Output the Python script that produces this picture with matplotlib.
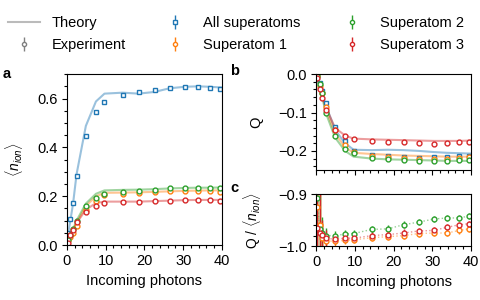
import numpy as np
import matplotlib.pyplot as plt
from matplotlib.ticker import MultipleLocator
from matplotlib.lines import Line2D

plt.rcParams['font.family'] = ['Liberation Sans', 'DejaVu Sans']
plt.rcParams['font.size'] = 10.5
plt.rcParams['mathtext.fontset'] = 'custom'
plt.rcParams['mathtext.it'] = 'Liberation Sans:italic'
plt.rcParams['mathtext.rm'] = 'Liberation Sans'

# ========== data ==========
photons = [0.35, 0.9, 1.6, 2.5, 4.9, 7.5, 9.7, 14.4, 18.5, 22.6, 26.5, 30.4, 33.8, 37.0, 39.6]

# panel a: <n_ion>
n_all = [0.05, 0.105, 0.173, 0.283, 0.448, 0.543, 0.585, 0.616, 0.626, 0.634, 0.645, 0.646, 0.648, 0.645, 0.641]
n_s1 = [0.02, 0.035, 0.05, 0.08, 0.145, 0.18, 0.205, 0.209, 0.214, 0.217, 0.221, 0.221, 0.223, 0.221, 0.219]
n_s2 = [0.02, 0.04, 0.065, 0.10, 0.161, 0.194, 0.209, 0.219, 0.223, 0.225, 0.232, 0.234, 0.234, 0.234, 0.234]
n_s3 = [0.01, 0.04, 0.06, 0.093, 0.137, 0.161, 0.171, 0.175, 0.176, 0.179, 0.182, 0.183, 0.183, 0.183, 0.182]

th_x = [0.0, 0.35, 0.9, 1.6, 2.5, 4.9, 7.5, 9.7, 14.4, 18.5, 22.6, 26.5, 30.4, 33.8, 37.0, 40.0]
th_n_all = [0.02, 0.05, 0.10, 0.17, 0.29, 0.488, 0.588, 0.62, 0.624, 0.62, 0.627, 0.642, 0.648, 0.65, 0.648, 0.645]
th_n_s1 = [0.0, 0.02, 0.04, 0.06, 0.09, 0.16, 0.20, 0.214, 0.215, 0.216, 0.218, 0.22, 0.222, 0.223, 0.224, 0.224]
th_n_s2 = [0.0, 0.02, 0.04, 0.065, 0.10, 0.17, 0.21, 0.224, 0.226, 0.227, 0.229, 0.232, 0.234, 0.235, 0.235, 0.236]
th_n_s3 = [0.0, 0.015, 0.035, 0.06, 0.09, 0.145, 0.172, 0.178, 0.178, 0.178, 0.18, 0.182, 0.184, 0.185, 0.185, 0.185]

# panel b: Q
q_all = [-0.007, -0.024, -0.044, -0.076, -0.139, -0.175, -0.199, -0.21, -0.214, -0.216, -0.219, -0.217, -0.216, -0.212, -0.212]
q_s1 = [-0.006, -0.03, -0.05, -0.085, -0.145, -0.185, -0.203, -0.213, -0.216, -0.218, -0.22, -0.221, -0.22, -0.218, -0.215]
q_s2 = [-0.005, -0.025, -0.05, -0.102, -0.16, -0.194, -0.206, -0.219, -0.222, -0.223, -0.225, -0.225, -0.225, -0.223, -0.223]
q_s3 = [-0.01, -0.039, -0.063, -0.093, -0.145, -0.162, -0.17, -0.174, -0.176, -0.178, -0.179, -0.181, -0.179, -0.177, -0.177]

th_q_all = [0.0, -0.01, -0.03, -0.05, -0.08, -0.145, -0.18, -0.197, -0.198, -0.197, -0.198, -0.2, -0.203, -0.205, -0.206, -0.207]
th_q_s1 = [0.0, -0.01, -0.03, -0.055, -0.09, -0.155, -0.19, -0.205, -0.208, -0.21, -0.212, -0.213, -0.214, -0.215, -0.215, -0.215]
th_q_s2 = [0.0, -0.01, -0.03, -0.06, -0.1, -0.165, -0.2, -0.215, -0.22, -0.222, -0.223, -0.224, -0.225, -0.226, -0.226, -0.226]
th_q_s3 = [0.0, -0.01, -0.03, -0.055, -0.085, -0.14, -0.16, -0.168, -0.17, -0.171, -0.172, -0.173, -0.174, -0.174, -0.174, -0.173]

# panel c: Q / <n_ion>
r_s1 = [-0.925, -0.96, -0.985, -0.99, -0.991, -0.989, -0.988, -0.984, -0.982, -0.98, -0.976, -0.975, -0.975, -0.97, -0.967]
r_s2 = [-0.907, -0.968, -0.975, -0.98, -0.98, -0.977, -0.976, -0.968, -0.967, -0.959, -0.954, -0.948, -0.946, -0.946, -0.942]
r_s3 = [-0.965, -0.975, -0.979, -0.985, -0.987, -0.985, -0.985, -0.98, -0.978, -0.975, -0.971, -0.97, -0.964, -0.959, -0.957]
r_err = [0.2, 0.1, 0.03, 0.015, 0.009, 0.008, 0.007, 0.007, 0.007, 0.007, 0.006, 0.006, 0.006, 0.006, 0.006]

# ========== styles ==========
c_all, c1, c2, c3 = '#1f77b4', '#ff7f0e', '#2ca02c', '#d62728'
series = [('All superatoms', c_all, 's', n_all, q_all, th_n_all, th_q_all, None),
          ('Superatom 1', c1, 'o', n_s1, q_s1, th_n_s1, th_q_s1, r_s1),
          ('Superatom 2', c2, 'o', n_s2, q_s2, th_n_s2, th_q_s2, r_s2),
          ('Superatom 3', c3, 'o', n_s3, q_s3, th_n_s3, th_q_s3, r_s3)]

fig = plt.figure(figsize=(4.81, 3.0), dpi=100)
ax_a = fig.add_axes([0.139, 0.183, 0.3225, 0.57])
ax_b = fig.add_axes([0.657, 0.433, 0.3222, 0.32])
ax_c = fig.add_axes([0.657, 0.18, 0.3222, 0.173])

mk = dict(ms=3.5, mfc='white', mew=1.0, ls='none', elinewidth=1.0, capsize=0)

for label, col, m, n, q, thn, thq, r in series:
    ax_a.plot(th_x, thn, color=col, alpha=0.45, lw=1.5)
    ax_a.errorbar(photons, n, yerr=0.003, marker=m, color=col, **mk)
    ax_b.plot(th_x, thq, color=col, alpha=0.45, lw=1.5)
    ax_b.errorbar(photons, q, yerr=0.002, marker=m, color=col, **mk)
    if r is not None:
        ax_c.plot(photons, r, color=col, alpha=0.5, lw=1.0, ls=':')
        ax_c.errorbar(photons, r, yerr=r_err, marker=m, color=col, **mk)

for ax in (ax_a, ax_b, ax_c):
    ax.set_xlim(0, 40)
    ax.xaxis.set_major_locator(MultipleLocator(10))
    ax.xaxis.set_minor_locator(MultipleLocator(2))
    ax.tick_params(which='major', length=3.5, width=0.8, labelsize=10.5, pad=3)
    ax.tick_params(which='minor', length=2, width=0.8)

ax_a.set_ylim(0, 0.7)
ax_a.yaxis.set_major_locator(MultipleLocator(0.2))
ax_a.yaxis.set_minor_locator(MultipleLocator(0.05))
ax_a.set_ylabel(r'$\langle n_{ion} \rangle$', fontsize=10)
ax_a.set_xlabel('Incoming photons')

ax_b.set_ylim(-0.25, 0)
ax_b.yaxis.set_major_locator(MultipleLocator(0.1))
ax_b.yaxis.set_minor_locator(MultipleLocator(0.02))
ax_b.set_ylabel('Q')
ax_b.tick_params(labelbottom=False)

ax_c.set_ylim(-1.0, -0.9)
ax_c.yaxis.set_major_locator(MultipleLocator(0.1))
ax_c.yaxis.set_minor_locator(MultipleLocator(0.02))
ax_c.set_ylabel(r'Q / $\langle n_{ion} \rangle$', fontsize=10)
ax_c.set_xlabel('Incoming photons')

ax_a.yaxis.set_label_coords(-0.27, 0.5)
ax_b.yaxis.set_label_coords(-0.34, 0.5)
ax_c.yaxis.set_label_coords(-0.34, 0.5)

fig.text(0.006, 0.74, 'a', fontsize=10.5, fontweight='bold')
fig.text(0.478, 0.75, 'b', fontsize=10.5, fontweight='bold')
fig.text(0.478, 0.36, 'c', fontsize=10.5, fontweight='bold')

# legend, one block per column
eb = dict(ls='none', ms=3, mfc='white', mew=1.0, elinewidth=1.0, capsize=0)
h_th = Line2D([], [], color='#bbbbbb', lw=1.5)
h_exp = ax_a.errorbar([], [], yerr=[], marker='o', color='gray', **eb)
h_all = ax_a.errorbar([], [], yerr=[], marker='s', color=c_all, **eb)
h1 = ax_a.errorbar([], [], yerr=[], marker='o', color=c1, **eb)
h2 = ax_a.errorbar([], [], yerr=[], marker='o', color=c2, **eb)
h3 = ax_a.errorbar([], [], yerr=[], marker='o', color=c3, **eb)
cols = [([h_th, h_exp], ['Theory', 'Experiment'], 8),
        ([h_all, h1], ['All superatoms', 'Superatom 1'], 159),
        ([h2, h3], ['Superatom 2', 'Superatom 3'], 336)]
for hs, labs, x0 in cols:
    fig.legend(hs, labs, loc='upper left', bbox_to_anchor=(x0 / 481, 0.947), frameon=False,
               borderpad=0, borderaxespad=0, handlelength=2.2, handletextpad=0.8,
               labelspacing=0.55, fontsize=10.5)

plt.savefig('out.png', dpi=100)
